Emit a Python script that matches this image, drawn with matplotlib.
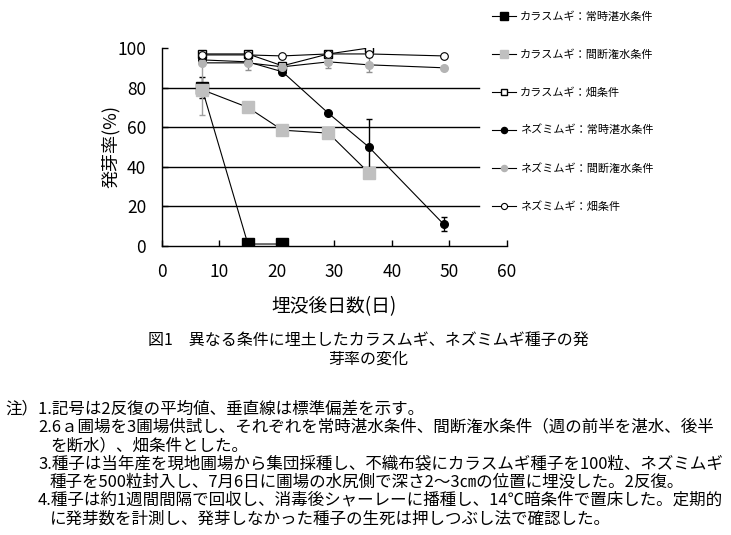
import matplotlib
matplotlib.use('Agg')
import matplotlib.pyplot as plt

plt.rcParams['font.family'] = ['Noto Sans CJK JP', 'DejaVu Sans']

# 埋没後日数
days_karasu = [7, 15, 21, 29, 36]
days_nezumi = [7, 15, 21, 29, 36, 49]

# 発芽率(%)
karasu_jouji = [80, 1, 1]
karasu_jouji_sd = [5.5, 0, 0]
karasu_kandan = [79, 70, 58.5, 57, 37]
karasu_kandan_sd = [13, 0, 0, 0, 0]
karasu_hata = [97, 97, 91, 97, 100]
nezumi_jouji = [94, 93, 88, 67, 50, 11]
nezumi_jouji_sd = [0, 0, 0, 0, 14, 3.5]
nezumi_kandan = [92.5, 92.5, 90.5, 93, 91.5, 90]
nezumi_kandan_sd = [0, 3.5, 0, 3, 3.8, 0]
nezumi_hata = [96.5, 96.5, 96, 97, 97, 96]

labels = ['カラスムギ：常時湛水条件', 'カラスムギ：間断潅水条件', 'カラスムギ：畑条件',
          'ネズミムギ：常時湛水条件', 'ネズミムギ：間断潅水条件', 'ネズミムギ：畑条件']

notes = [
    '注）1.記号は2反復の平均値、垂直線は標準偏差を示す。',
    '2.6ａ圃場を3圃場供試し、それぞれを常時湛水条件、間断潅水条件（週の前半を湛水、後半',
    'を断水）、畑条件とした。',
    '3.種子は当年産を現地圃場から集団採種し、不織布袋にカラスムギ種子を100粒、ネズミムギ',
    '種子を500粒封入し、7月6日に圃場の水尻側で深さ2～3㎝の位置に埋没した。2反復。',
    '4.種子は約1週間間隔で回収し、消毒後シャーレーに播種し、14℃暗条件で置床した。定期的',
    'に発芽数を計測し、発芽しなかった種子の生死は押しつぶし法で確認した。',
]
note_x = [5, 38, 50, 38, 50, 38, 50]

W, H = 731, 535
fig = plt.figure(figsize=(W / 100, H / 100), dpi=100)
ax = fig.add_axes([161.5 / W, 1 - 246 / H, (507 - 161.5) / W, (246 - 48) / H])

# 横線(20-80)
for yv in [20, 40, 60, 80]:
    ax.axhline(yv, xmin=0, xmax=0.92, color='black', lw=1.0, zorder=1)

lw = 0.8
h1 = ax.errorbar(days_karasu[:3], karasu_jouji, yerr=karasu_jouji_sd, fmt='s-', color='black',
                 ms=8, lw=lw, ecolor='black', elinewidth=1, capsize=2, zorder=3)
h2 = ax.errorbar(days_karasu, karasu_kandan, yerr=karasu_kandan_sd, fmt='s-', color='black',
                 mfc='#c0c0c0', mec='#c0c0c0', ms=8, lw=lw, ecolor='#a0a0a0', elinewidth=1,
                 capsize=2, zorder=3)
h3 = ax.errorbar(days_karasu, karasu_hata, fmt='s-', color='black', mfc='white', mec='black',
                 ms=6, mew=1, lw=lw, zorder=3)
h4 = ax.errorbar(days_nezumi, nezumi_jouji, yerr=nezumi_jouji_sd, fmt='o-', color='black',
                 ms=5.5, lw=lw, ecolor='black', elinewidth=1, capsize=2, zorder=3)
h5 = ax.errorbar(days_nezumi, nezumi_kandan, yerr=nezumi_kandan_sd, fmt='o-', color='black',
                 mfc='#b4b4b4', mec='#b4b4b4', ms=5.5, lw=lw, ecolor='#909090', elinewidth=1,
                 capsize=2, zorder=3)
h6 = ax.errorbar(days_nezumi, nezumi_hata, fmt='o-', color='black', mfc='white', mec='black',
                 ms=5.5, mew=0.8, lw=lw, zorder=3)

ax.set_xlim(0, 60)
ax.set_ylim(0, 100)
ax.set_xticks(range(0, 61, 10))
ax.set_yticks(range(0, 101, 20))
ax.spines['top'].set_visible(False)
ax.spines['right'].set_visible(False)
ax.spines['left'].set_linewidth(1)
ax.spines['bottom'].set_linewidth(1)
ax.tick_params(axis='x', direction='in', length=4, width=1, pad=12, labelsize=12.5)
ax.tick_params(axis='y', direction='in', length=4, width=1, pad=11, labelsize=12.5)
ax.set_xlabel('埋没後日数(日)', fontsize=13.5, labelpad=11)
ax.set_ylabel('発芽率(%)', fontsize=13, labelpad=-2)

handles = [h1[0], h2[0], h3[0], h4[0], h5[0], h6[0]]
fig.legend(handles, labels, loc='upper left', bbox_to_anchor=(488 / W, 1 - 7 / H),
           frameon=False, fontsize=8, handlelength=2.1, handletextpad=0.4,
           labelspacing=2.45, markerscale=0.8, borderaxespad=0)

fig.text(368 / W, 1 - 350 / H, '図1　異なる条件に埋土したカラスムギ、ネズミムギ種子の発\n芽率の変化',
         ha='center', va='center', fontsize=11.5, linespacing=1.15)

for i, (line, xp) in enumerate(zip(notes, note_x)):
    fig.text(xp / W, 1 - (409 + i * 18.3) / H, line, ha='left', va='center', fontsize=11.9)

fig.savefig('out.png', dpi=100)
